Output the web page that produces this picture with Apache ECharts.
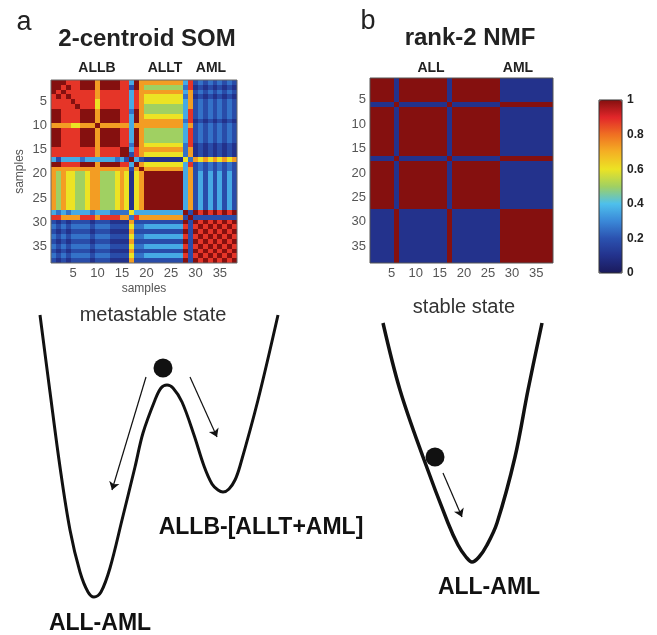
<!DOCTYPE html>
<html><head><meta charset="utf-8">
<script src="https://cdn.jsdelivr.net/npm/echarts@6/dist/echarts.min.js"></script>
<style>html,body{margin:0;padding:0;background:#fff}#c{width:657px;height:635px}</style>
</head><body><div id="c"></div>
<script>
// ---------- data ----------
const SAMPLES = ['1','2','3','4','5','6','7','8','9','10','11','12','13','14','15','16','17','18','19','20',
  '21','22','23','24','25','26','27','28','29','30','31','32','33','34','35','36','37','38'];
// consensus level, one digit per cell -> value via LEVELS
const LEVELS = [0.03, 0.1, 0.18, 0.26, 0.36, 0.5, 0.6, 0.73, 0.88, 1.0];
// panel a: 2-centroid SOM consensus matrix (rows = samples 1..38)
const somRows = [
  '9998889997999988'+'4'+'97'+'77777777'+'4'+'8'+'232323232',
  '9989889997999988'+'2'+'97'+'55555555'+'3'+'8'+'121212121',
  '9898888887888888'+'4'+'87'+'77777777'+'4'+'7'+'232323232',
  '8989888887888888'+'4'+'87'+'66666666'+'3'+'7'+'121212121',
  '8888988886888888'+'4'+'87'+'66666666'+'4'+'7'+'232323232',
  '8888898886888888'+'4'+'87'+'55555555'+'4'+'7'+'232323232',
  '9988889997999988'+'3'+'97'+'55555555'+'4'+'8'+'232323232',
  '9988889997999988'+'4'+'97'+'66666666'+'4'+'8'+'232323232',
  '9988889997999988'+'4'+'97'+'77777777'+'3'+'8'+'121212121',
  '7777667779777777'+'4'+'77'+'77777777'+'4'+'7'+'232323232',
  '9988889997999988'+'4'+'97'+'55555555'+'4'+'8'+'232323232',
  '9988889997999988'+'4'+'97'+'55555555'+'4'+'8'+'232323232',
  '9988889997999988'+'4'+'97'+'55555555'+'4'+'8'+'232323232',
  '9988889997999988'+'3'+'97'+'66666666'+'3'+'8'+'121212121',
  '8888888887888899'+'4'+'87'+'77777777'+'3'+'7'+'121212121',
  '8888888887888899'+'2'+'87'+'66666666'+'3'+'7'+'121212121',
  '4244443444444342'+'9'+'42'+'11111111'+'6'+'3'+'767676767',
  '9988889997999988'+'4'+'97'+'66666666'+'4'+'8'+'232323232',
  '7777777777777777'+'2'+'79'+'77777777'+'4'+'7'+'232323232',
  '7576655677555676'+'1'+'67'+'99999999'+'4'+'7'+'242424242',
  '7576655677555676'+'1'+'67'+'99999999'+'4'+'7'+'242424242',
  '7576655677555676'+'1'+'67'+'99999999'+'4'+'7'+'242424242',
  '7576655677555676'+'1'+'67'+'99999999'+'4'+'7'+'242424242',
  '7576655677555676'+'1'+'67'+'99999999'+'4'+'7'+'242424242',
  '7576655677555676'+'1'+'67'+'99999999'+'4'+'7'+'242424242',
  '7576655677555676'+'1'+'67'+'99999999'+'4'+'7'+'242424242',
  '7576655677555676'+'1'+'67'+'99999999'+'4'+'7'+'242424242',
  '4343444434443333'+'6'+'44'+'44444444'+'9'+'2'+'989898989',
  '8877778887888877'+'3'+'87'+'77777777'+'2'+'9'+'222222222',
  '2121222212221111'+'7'+'22'+'22222222'+'9'+'2'+'989898989',
  '3232333323332222'+'6'+'33'+'44444444'+'8'+'2'+'898989898',
  '2121222212221111'+'7'+'22'+'22222222'+'9'+'2'+'989898989',
  '3232333323332222'+'6'+'33'+'44444444'+'8'+'2'+'898989898',
  '2121222212221111'+'7'+'22'+'22222222'+'9'+'2'+'989898989',
  '3232333323332222'+'6'+'33'+'44444444'+'8'+'2'+'898989898',
  '2121222212221111'+'7'+'22'+'22222222'+'9'+'2'+'989898989',
  '3232333323332222'+'6'+'33'+'44444444'+'8'+'2'+'898989898',
  '2121222212221111'+'7'+'22'+'22222222'+'9'+'2'+'989898989'
];
// panel b: rank-2 NMF consensus matrix
const nmfAllRow = '99999'+'1'+'9999999999'+'1'+'9999999999'+'11111111111';
const nmfAmlRow = '11111'+'9'+'1111111111'+'9'+'1111111111'+'99999999999';
const nmfRows = [
  nmfAllRow,nmfAllRow,nmfAllRow,nmfAllRow,nmfAllRow,nmfAmlRow,nmfAllRow,nmfAllRow,nmfAllRow,nmfAllRow,
  nmfAllRow,nmfAllRow,nmfAllRow,nmfAllRow,nmfAllRow,nmfAllRow,nmfAmlRow,nmfAllRow,nmfAllRow,nmfAllRow,
  nmfAllRow,nmfAllRow,nmfAllRow,nmfAllRow,nmfAllRow,nmfAllRow,nmfAllRow,nmfAmlRow,nmfAmlRow,nmfAmlRow,
  nmfAmlRow,nmfAmlRow,nmfAmlRow,nmfAmlRow,nmfAmlRow,nmfAmlRow,nmfAmlRow,nmfAmlRow
];
const somGroups = ['ALLB','ALLT','AML'];
const nmfGroups = ['ALL','AML'];
const colorbarTicks = [0, 0.2, 0.4, 0.6, 0.8, 1];

// energy landscapes (reaction coordinate, energy)
const wellX = [0,10,20,30,40,48,54,61,70,82,95,103,115,121,127,133,142,154,164,172,178,183,189,195,200,218,238];
const wellE = [282,205,130,67,25,5,0,5,29,77,130,164,197,209,212,209,195,162,131,113,107,105,108,117,131,197,282];
const wellBall = [123,229];
const wellArrows = [[[106,220],[72,107]], [[150,220],[177,160]]];
const bowlX = [0,17,40,65,75,83,89,96,104,114,132,145,159];
const bowlE = [239,172,105,39,17,5,0,5,17,39,105,172,239];
const bowlBall = [52,105];
const bowlArrows = [[[60,89],[79,45]]];

// ---------- chart ----------
const FONT = '"Liberation Sans", Arial, Helvetica, sans-serif';
function decode(rows){
  const out = [];
  rows.forEach((r,i)=>{ for (let j=0;j<r.length;j++) out.push([j,i,LEVELS[+r[j]]]); });
  return out;
}
// matrix cell: snapped to whole pixels so neighbouring cells meet without seams
function renderCell(params, api){
  const c = api.coord([api.value(0), api.value(1)]);
  const s = api.size([1,1]);
  const x0 = Math.round(c[0]-s[0]/2), x1 = Math.round(c[0]+s[0]/2);
  const y0 = Math.round(c[1]-s[1]/2), y1 = Math.round(c[1]+s[1]/2);
  return {type:'rect', shape:{x:x0, y:y0, width:x1-x0, height:y1-y0},
          style:{fill:api.visual('color')}};
}
const tickEvery5 = (idx)=> (idx+1)%5===0;
function catAxis(grid, isY, named){
  const a = {
    type:'category', gridIndex:grid, data:SAMPLES,
    axisLine:{show:false}, axisTick:{show:false}, splitLine:{show:false},
    axisLabel:{interval:tickEvery5, margin:4, color:'#555', fontSize:13, fontFamily:FONT}
  };
  if (isY) a.inverse = true;
  if (named){
    a.name = 'samples'; a.nameLocation = 'middle';
    a.nameGap = isY ? 25 : 20; if (isY) a.nameRotate = 90;
    a.nameTextStyle = {color:'#555', fontSize:12, fontFamily:FONT};
  }
  return a;
}
const hidden = (grid,max)=>({type:'value', gridIndex:grid, min:0, max:max, show:false});
const txt = (text,x,y,font,fill,align)=>({type:'text', x:x, y:y, z:100,
  style:{text:text, font:font, fill:fill||'#222', textAlign:align||'center', align:align||'center',
         textVerticalAlign:'middle', verticalAlign:'middle'}});

const chart = echarts.init(document.getElementById('c'));
chart.setOption({
  backgroundColor:'#fff',
  animation:false,
  grid:[
    {left:51, top:80, width:186, height:183},
    {left:370, top:78, width:183, height:185},
    {left:599, top:100, width:23, height:173},
    {left:40, top:315, width:238, height:282},
    {left:383, top:323, width:159, height:239}
  ],
  xAxis:[
    catAxis(0,false,true), catAxis(1,false,false),
    hidden(2,1), hidden(3,238), hidden(4,159)
  ],
  yAxis:[
    catAxis(0,true,true), catAxis(1,true,false),
    {type:'value', gridIndex:2, min:0, max:1, interval:0.2, position:'right',
     axisLine:{show:false}, axisTick:{show:false}, splitLine:{show:false},
     axisLabel:{margin:5, color:'#222', fontSize:12, fontWeight:'bold', fontFamily:FONT,
       formatter:(v)=> colorbarTicks.indexOf(Math.round(v*10)/10)>=0 ? String(Math.round(v*10)/10) : ''}},
    hidden(3,282), hidden(4,239)
  ],
  visualMap:{
    type:'continuous', min:0, max:1, seriesIndex:[0,1], dimension:2, calculable:false,
    left:599, top:100, itemWidth:23, itemHeight:173, padding:0, text:null,
    inRange:{color:['#1a1a5c','#23328c','#2b52b0','#3a88d8','#4ec0ec','#a0d062',
                    '#ece324','#f4b024','#ef7022','#e2262a','#85100f']}
  },
  series:[
    {type:'custom', xAxisIndex:0, yAxisIndex:0, data:decode(somRows), encode:{x:0, y:1},
     renderItem:renderCell, silent:true},
    {type:'custom', xAxisIndex:1, yAxisIndex:1, data:decode(nmfRows), encode:{x:0, y:1},
     renderItem:renderCell, silent:true},
    {type:'line', xAxisIndex:3, yAxisIndex:3, data:wellX.map((x,i)=>[x,wellE[i]]), smooth:0.35,
     showSymbol:false, clip:false, lineStyle:{color:'#111', width:3}},
    {type:'scatter', xAxisIndex:3, yAxisIndex:3, data:[wellBall], symbolSize:19, itemStyle:{color:'#111', opacity:1}},
    {type:'lines', coordinateSystem:'cartesian2d', xAxisIndex:3, yAxisIndex:3,
     data:wellArrows.map(c=>({coords:c})), symbol:['none','arrow'], symbolSize:8,
     lineStyle:{color:'#111', width:1.2, opacity:1}},
    {type:'line', xAxisIndex:4, yAxisIndex:4, data:bowlX.map((x,i)=>[x,bowlE[i]]), smooth:0.35,
     showSymbol:false, clip:false, lineStyle:{color:'#111', width:3.5}},
    {type:'scatter', xAxisIndex:4, yAxisIndex:4, data:[bowlBall], symbolSize:19, itemStyle:{color:'#111', opacity:1}},
    {type:'lines', coordinateSystem:'cartesian2d', xAxisIndex:4, yAxisIndex:4,
     data:bowlArrows.map(c=>({coords:c})), symbol:['none','arrow'], symbolSize:8,
     lineStyle:{color:'#111', width:1.2, opacity:1}}
  ],
  graphic:[
    {type:'rect', z:100, shape:{x:51, y:80, width:186, height:183}, style:{fill:'none', stroke:'#666', lineWidth:1}},
    {type:'rect', z:100, shape:{x:370, y:78, width:183, height:185}, style:{fill:'none', stroke:'#555', lineWidth:1}},
    {type:'rect', z:100, shape:{x:599, y:100, width:23, height:173}, style:{fill:'none', stroke:'#333', lineWidth:1}},
    txt('a', 24, 23, '27px '+FONT, '#222'),
    txt('b', 368, 22, '27px '+FONT, '#222'),
    txt('2-centroid SOM', 147, 39, 'bold 24px '+FONT, '#222'),
    txt('rank-2 NMF', 470, 38, 'bold 24px '+FONT, '#222'),
    txt(somGroups[0], 97, 68, 'bold 14px '+FONT, '#222'),
    txt(somGroups[1], 165, 68, 'bold 14px '+FONT, '#222'),
    txt(somGroups[2], 211, 68, 'bold 14px '+FONT, '#222'),
    txt(nmfGroups[0], 431, 68, 'bold 14px '+FONT, '#222'),
    txt(nmfGroups[1], 518, 68, 'bold 14px '+FONT, '#222'),
    txt('metastable state', 153, 315, '20px '+FONT, '#333'),
    txt('stable state', 464, 307, '20px '+FONT, '#333'),
    txt('ALLB-[ALLT+AML]', 261, 528, 'bold 23px '+FONT, '#111'),
    txt('ALL-AML', 100, 624, 'bold 23px '+FONT, '#111'),
    txt('ALL-AML', 489, 588, 'bold 23px '+FONT, '#111')
  ]
});
</script></body></html>
